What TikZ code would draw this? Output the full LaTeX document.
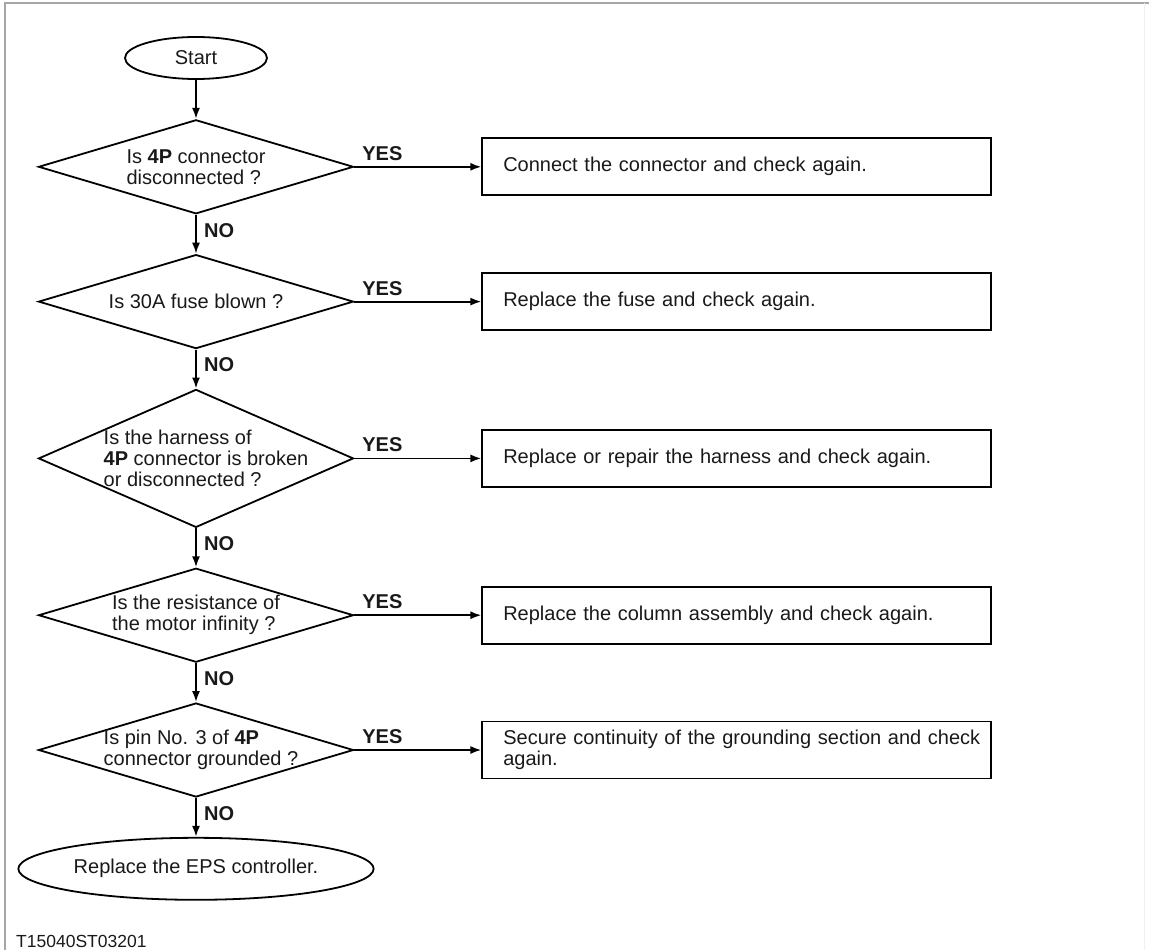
\documentclass[tikz,border=0pt]{standalone}
\usepackage{fontspec}
\setmainfont{Liberation Sans}
\usetikzlibrary{shapes.geometric,positioning,arrows.meta}

\begin{document}
\begin{tikzpicture}[x=1bp, y=1bp, line width=1.8bp, >={Latex[length=11bp,width=8bp]}]
    \tikzset{base/.style={font=\fontsize{20bp}{21bp}\selectfont, text=black!90},
      terminal/.style={base, ellipse, draw},
      decision/.style={diamond, draw, minimum width=315bp, minimum height=94bp, inner sep=0pt},
      question/.style={base, align=left},
      action/.style={base, draw, minimum height=57bp, text width=467bp, inner xsep=21bp, align=left},
      answer/.style={font=\fontsize{20bp}{21bp}\selectfont\bfseries, text=black!90}
    }

    \useasboundingbox (0,0) rectangle (1149,-950);
    \draw[gray!70, line width=2bp] (5,-950) -- (5,-3) -- (1149,-3);
    \draw[gray!12, line width=1bp] (1144,-3) -- (1144,-950);

    \node[terminal, minimum width=142bp, minimum height=42bp] (S) at (196,-58) {Start};

    \node[decision, below=39bp of S,
      label={[question]center:{Is \textbf{4P} connector\\disconnected ?}}] (Q1) {};
    \node[decision, below=39bp of Q1,
      label={[question]center:{Is 30A fuse blown ?}}] (Q2) {};
    \node[decision, minimum height=138bp, below=39bp of Q2,
      label={[question, xshift=10bp]center:{Is the harness of\\\textbf{4P} connector is broken\\or disconnected ?}}] (Q3) {};
    \node[decision, below=39bp of Q3,
      label={[question]center:{Is the resistance of\\the motor infinity ?}}] (Q4) {};
    \node[decision, below=39bp of Q4,
      label={[question, xshift=5bp]center:{Is pin No. 3 of \textbf{4P}\\connector grounded ?}}] (Q5) {};

    \node[terminal, minimum width=305bp, minimum height=62bp, below=39bp of Q5] (E) {Replace the EPS controller.};

    \node[action, right=127bp of Q1] (A1) {Connect the connector and check again.};
    \node[action, right=127bp of Q2] (A2) {Replace the fuse and check again.};
    \node[action, right=127bp of Q3] (A3) {Replace or repair the harness and check again.};
    \node[action, right=127bp of Q4] (A4) {Replace the column assembly and check again.};
    \node[action, right=127bp of Q5] (A5) {\mbox{Secure continuity of the grounding section and check}\\again.};

    \node[anchor=base west, font=\fontsize{17.5bp}{18bp}\selectfont, text=black!90] (T) at (12,-947) {T15040ST03201};

    \draw[->] (S) -- (Q1);

    \draw[->] (Q1) -- (A1) node[answer, pos=0.22, above=2bp] {YES};
    \draw[->] (Q2) -- (A2) node[answer, pos=0.22, above=2bp] {YES};
    \draw[->] (Q3) -- (A3) node[answer, pos=0.22, above=2bp] {YES};
    \draw[->] (Q4) -- (A4) node[answer, pos=0.22, above=2bp] {YES};
    \draw[->] (Q5) -- (A5) node[answer, pos=0.22, above=2bp] {YES};

    \draw[->] (Q1) -- (Q2) node[answer, pos=0.4, right=4bp] {NO};
    \draw[->] (Q2) -- (Q3) node[answer, pos=0.4, right=4bp] {NO};
    \draw[->] (Q3) -- (Q4) node[answer, pos=0.4, right=4bp] {NO};
    \draw[->] (Q4) -- (Q5) node[answer, pos=0.4, right=4bp] {NO};
    \draw[->] (Q5) -- (E) node[answer, pos=0.4, right=4bp] {NO};
  \end{tikzpicture}
\end{document}
